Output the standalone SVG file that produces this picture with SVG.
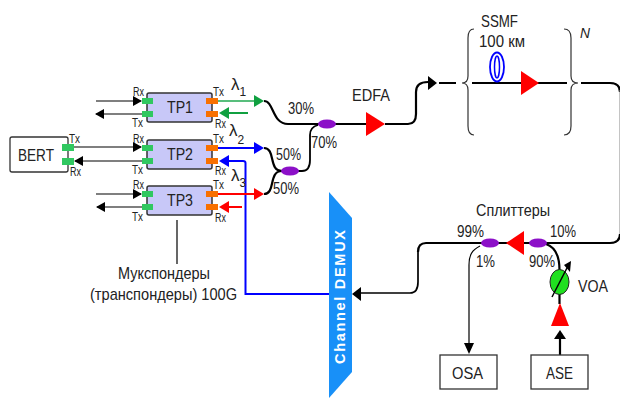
<svg xmlns="http://www.w3.org/2000/svg" width="620" height="399" viewBox="0 0 620 399">
<defs>
<marker id="ak" markerUnits="userSpaceOnUse" markerWidth="9" markerHeight="10" refX="8" refY="5" orient="auto"><path d="M0 0L9 5L0 10Z" fill="#000"/></marker>
</defs>
<style>
text{font-family:"Liberation Sans",Arial,sans-serif;fill:#222;font-size:17px}
.s{font-size:12px}
.box{fill:#fff;stroke:#333;stroke-width:1.3}
.tp{fill:#c8c8f8;stroke:#333;stroke-width:1.5}
.g{fill:#30c860}.o{fill:#f87000}
.sp{fill:#8c10c8}.r{fill:#f00}
.w{fill:none;stroke:#000;stroke-width:2.2}
.t{fill:none;stroke:#000;stroke-width:1.2}
.m{text-anchor:middle}
</style>
<g id="connectors">
<path class="t" d="M96 101H141" marker-end="url(#ak)"/>
<path class="t" d="M142 114H96" marker-end="url(#ak)"/>
<path class="t" d="M74 147H141" marker-end="url(#ak)"/>
<path class="t" d="M142 161H75" marker-end="url(#ak)"/>
<path class="t" d="M96 194H141" marker-end="url(#ak)"/>
<path class="t" d="M142 207H97" marker-end="url(#ak)"/>
<path d="M218 101H258" fill="none" stroke="#20a850" stroke-width="1.5"/><path d="M254 95L264 101L254 107Z" fill="#10a040"/>
<path d="M248 113H228" fill="none" stroke="#10a040" stroke-width="2"/><path d="M229 107L219 113L229 119Z" fill="#10a040"/>
<path d="M218 148H258" fill="none" stroke="#00f" stroke-width="2.2"/><path d="M254 142L264 148L254 154Z" fill="#00f"/>
<path d="M329 294H245.500V163Q245.500 161 243 161H228" fill="none" stroke="#00f" stroke-width="2"/><path d="M229 155L219 161L229 167Z" fill="#00f"/>
<path d="M218 194H258" fill="none" stroke="#f00" stroke-width="2.2"/><path d="M254 188L264 194L254 200Z" fill="#f00"/>
<path d="M242 207H228" fill="none" stroke="#f00" stroke-width="2"/><path d="M229 201L219 207L229 213Z" fill="#f00"/>
<path class="w" d="M264 101C274 101 272 124 288 124H366M385 124H408Q416 124 416 114V92Q416 82 428 82"/>
<path d="M428 76L437 83L428 90Z" fill="#000"/>
<path class="w" d="M264 148C276 148 268 171 282 171M264 194C276 194 268 171 282 171"/>
<path class="t" style="stroke-width:1.8" d="M282 171H302Q310 171 310 160V135Q310 127 318 125"/>
<path class="w" d="M439 83H456M472 83H567M581 83H610Q620 83 620 92"/>
<path d="M620 90V234" stroke="#888" stroke-width="1" fill="none"/>
<path class="w" d="M620 234Q620 243 610 243H426Q418 243 418 252"/>
<path class="t" style="stroke-width:1.7" d="M418 252V282Q418 293 410 293H360"/>
<path d="M361 287L352 294L361 301Z" fill="#000"/>
<path class="t" d="M480 246C472 250 469 255 469 265V344"/>
<path d="M464 343H474L469 354Z" fill="#000"/>
<path class="w" d="M546 244C555 247 559.500 255 559.500 270V304"/>
<path class="w" d="M560 355V336"/>
<path d="M554 339L560 330L566 339Z" fill="#000"/>
<path d="M177 220V264" stroke="#000" stroke-width="1.2" fill="none"/>
<path d="M474 29Q468 29 468 38V76Q468 83 462 83Q468 83 468 90V126Q468 135 474 135" fill="none" stroke="#333" stroke-width="1.2"/>
<path d="M564 29Q571 29 571 38V76Q571 83 578 83Q571 83 571 90V126Q571 135 564 135" fill="none" stroke="#333" stroke-width="1.2"/>
</g>
<g id="BERT"><rect class="box" x="10" y="137" width="58" height="35" rx="2"/><text x="18" y="161" textLength="36" lengthAdjust="spacingAndGlyphs">BERT</text>
<rect class="g" x="62" y="144" width="12" height="7"/><rect class="g" x="62" y="158" width="12" height="7"/>
<text class="s" x="69" y="143" textLength="11" lengthAdjust="spacingAndGlyphs">Tx</text><text class="s" x="70" y="176" textLength="11" lengthAdjust="spacingAndGlyphs">Rx</text></g>
<g id="TP1"><rect class="tp" x="147" y="93" width="65" height="29" rx="2"/><text x="167" y="113" textLength="26" lengthAdjust="spacingAndGlyphs">TP1</text>
<rect class="g" x="142" y="98" width="11" height="6"/><rect class="g" x="142" y="111" width="11" height="6"/><rect class="o" x="206" y="98" width="12" height="6"/><rect class="o" x="206" y="111" width="12" height="6"/>
<text class="s" x="133" y="96" textLength="11" lengthAdjust="spacingAndGlyphs">Rx</text><text class="s" x="132" y="127" textLength="11" lengthAdjust="spacingAndGlyphs">Tx</text><text class="s" x="213" y="96" textLength="11" lengthAdjust="spacingAndGlyphs">Tx</text><text class="s" x="215" y="128" textLength="11" lengthAdjust="spacingAndGlyphs">Rx</text></g>
<g id="TP2"><rect class="tp" x="147" y="140" width="65" height="29" rx="2"/><text x="167" y="160" textLength="26" lengthAdjust="spacingAndGlyphs">TP2</text>
<rect class="g" x="142" y="145" width="11" height="6"/><rect class="g" x="142" y="158" width="11" height="6"/><rect class="o" x="206" y="145" width="12" height="6"/><rect class="o" x="206" y="158" width="12" height="6"/>
<text class="s" x="133" y="143" textLength="11" lengthAdjust="spacingAndGlyphs">Rx</text><text class="s" x="132" y="174" textLength="11" lengthAdjust="spacingAndGlyphs">Tx</text><text class="s" x="213" y="143" textLength="11" lengthAdjust="spacingAndGlyphs">Tx</text><text class="s" x="215" y="175" textLength="11" lengthAdjust="spacingAndGlyphs">Rx</text></g>
<g id="TP3"><rect class="tp" x="147" y="186" width="65" height="29" rx="2"/><text x="167" y="206" textLength="26" lengthAdjust="spacingAndGlyphs">TP3</text>
<rect class="g" x="142" y="191" width="11" height="6"/><rect class="g" x="142" y="204" width="11" height="6"/><rect class="o" x="206" y="191" width="12" height="6"/><rect class="o" x="206" y="204" width="12" height="6"/>
<text class="s" x="133" y="189" textLength="11" lengthAdjust="spacingAndGlyphs">Rx</text><text class="s" x="132" y="221" textLength="11" lengthAdjust="spacingAndGlyphs">Tx</text><text class="s" x="213" y="189" textLength="11" lengthAdjust="spacingAndGlyphs">Tx</text><text class="s" x="215" y="222" textLength="11" lengthAdjust="spacingAndGlyphs">Rx</text></g>
<g id="lambdas"><text x="231" y="90">λ<tspan class="s" dy="6">1</tspan></text><text x="229" y="136">λ<tspan class="s" dy="8">2</tspan></text><text x="231" y="181">λ<tspan class="s" dy="6">3</tspan></text></g>
<g id="muxponders-label"><text x="118" y="279" textLength="92" lengthAdjust="spacingAndGlyphs">Мукспондеры</text><text x="90" y="300" textLength="147" lengthAdjust="spacingAndGlyphs">(транспондеры) 100G</text></g>
<g id="coupler-1"><ellipse class="sp" cx="290" cy="171" rx="9" ry="4.500"/><text x="276" y="160" textLength="25" lengthAdjust="spacingAndGlyphs">50%</text><text x="273" y="194" textLength="26" lengthAdjust="spacingAndGlyphs">50%</text></g>
<g id="coupler-2"><ellipse class="sp" cx="327" cy="124" rx="9" ry="4.500"/><text x="288" y="114" textLength="26" lengthAdjust="spacingAndGlyphs">30%</text><text x="311" y="148" textLength="26" lengthAdjust="spacingAndGlyphs">70%</text></g>
<g id="EDFA"><path class="r" d="M366 112L385 124L366 136Z"/><text x="352" y="101" textLength="38" lengthAdjust="spacingAndGlyphs">EDFA</text></g>
<g id="SSMF"><ellipse cx="497" cy="67" rx="7" ry="14.500" fill="none" stroke="#00f" stroke-width="1.800"/><ellipse cx="497" cy="67" rx="2.500" ry="11" fill="none" stroke="#00f" stroke-width="1.500"/>
<path class="r" d="M521 71L539 83L521 95Z"/><text x="481" y="27" textLength="37" lengthAdjust="spacingAndGlyphs">SSMF</text><text x="479" y="47" textLength="46" lengthAdjust="spacingAndGlyphs">100 км</text><text x="580" y="38" font-style="italic" textLength="10" lengthAdjust="spacingAndGlyphs" style="font-size:15px">N</text></g>
<g id="DEMUX"><path d="M329 192L352 218V372L329 398Z" fill="#1890f8"/><text transform="translate(345 364) rotate(-90)" style="fill:#fff;font-weight:bold;font-size:14.500px" textLength="134" lengthAdjust="spacing">Channel DEMUX</text></g>
<g id="splitter-1"><ellipse class="sp" cx="490" cy="243" rx="9" ry="4.500"/><text x="457" y="237" textLength="27" lengthAdjust="spacingAndGlyphs">99%</text><text x="476" y="267" textLength="19" lengthAdjust="spacingAndGlyphs">1%</text></g>
<g id="splitter-2"><ellipse class="sp" cx="538" cy="243" rx="9" ry="4.500"/><text x="550" y="237" textLength="26" lengthAdjust="spacingAndGlyphs">10%</text><text x="529" y="267" textLength="26" lengthAdjust="spacingAndGlyphs">90%</text></g>
<g id="amp"><path class="r" d="M524 231L506 243L524 255Z"/><text x="476" y="216" textLength="74" lengthAdjust="spacingAndGlyphs">Сплиттеры</text></g>
<g id="VOA"><ellipse cx="559.500" cy="282" rx="9.500" ry="12.500" fill="#20e020" stroke="#222"/><path d="M552 297L568 266" stroke="#000" stroke-width="1.500"/><path d="M564 265L571 261L570 272Z" fill="#000"/><text x="578" y="292" textLength="30" lengthAdjust="spacingAndGlyphs">VOA</text></g>
<g id="preamp"><path class="r" d="M551 326L560 303L569 326Z"/></g>
<g id="OSA"><rect class="box" x="440" y="355" width="57" height="34"/><text x="452" y="379" textLength="31" lengthAdjust="spacingAndGlyphs">OSA</text></g>
<g id="ASE"><rect class="box" x="531" y="355" width="57" height="34"/><text x="546" y="379" textLength="27" lengthAdjust="spacingAndGlyphs">ASE</text></g>
</svg>
